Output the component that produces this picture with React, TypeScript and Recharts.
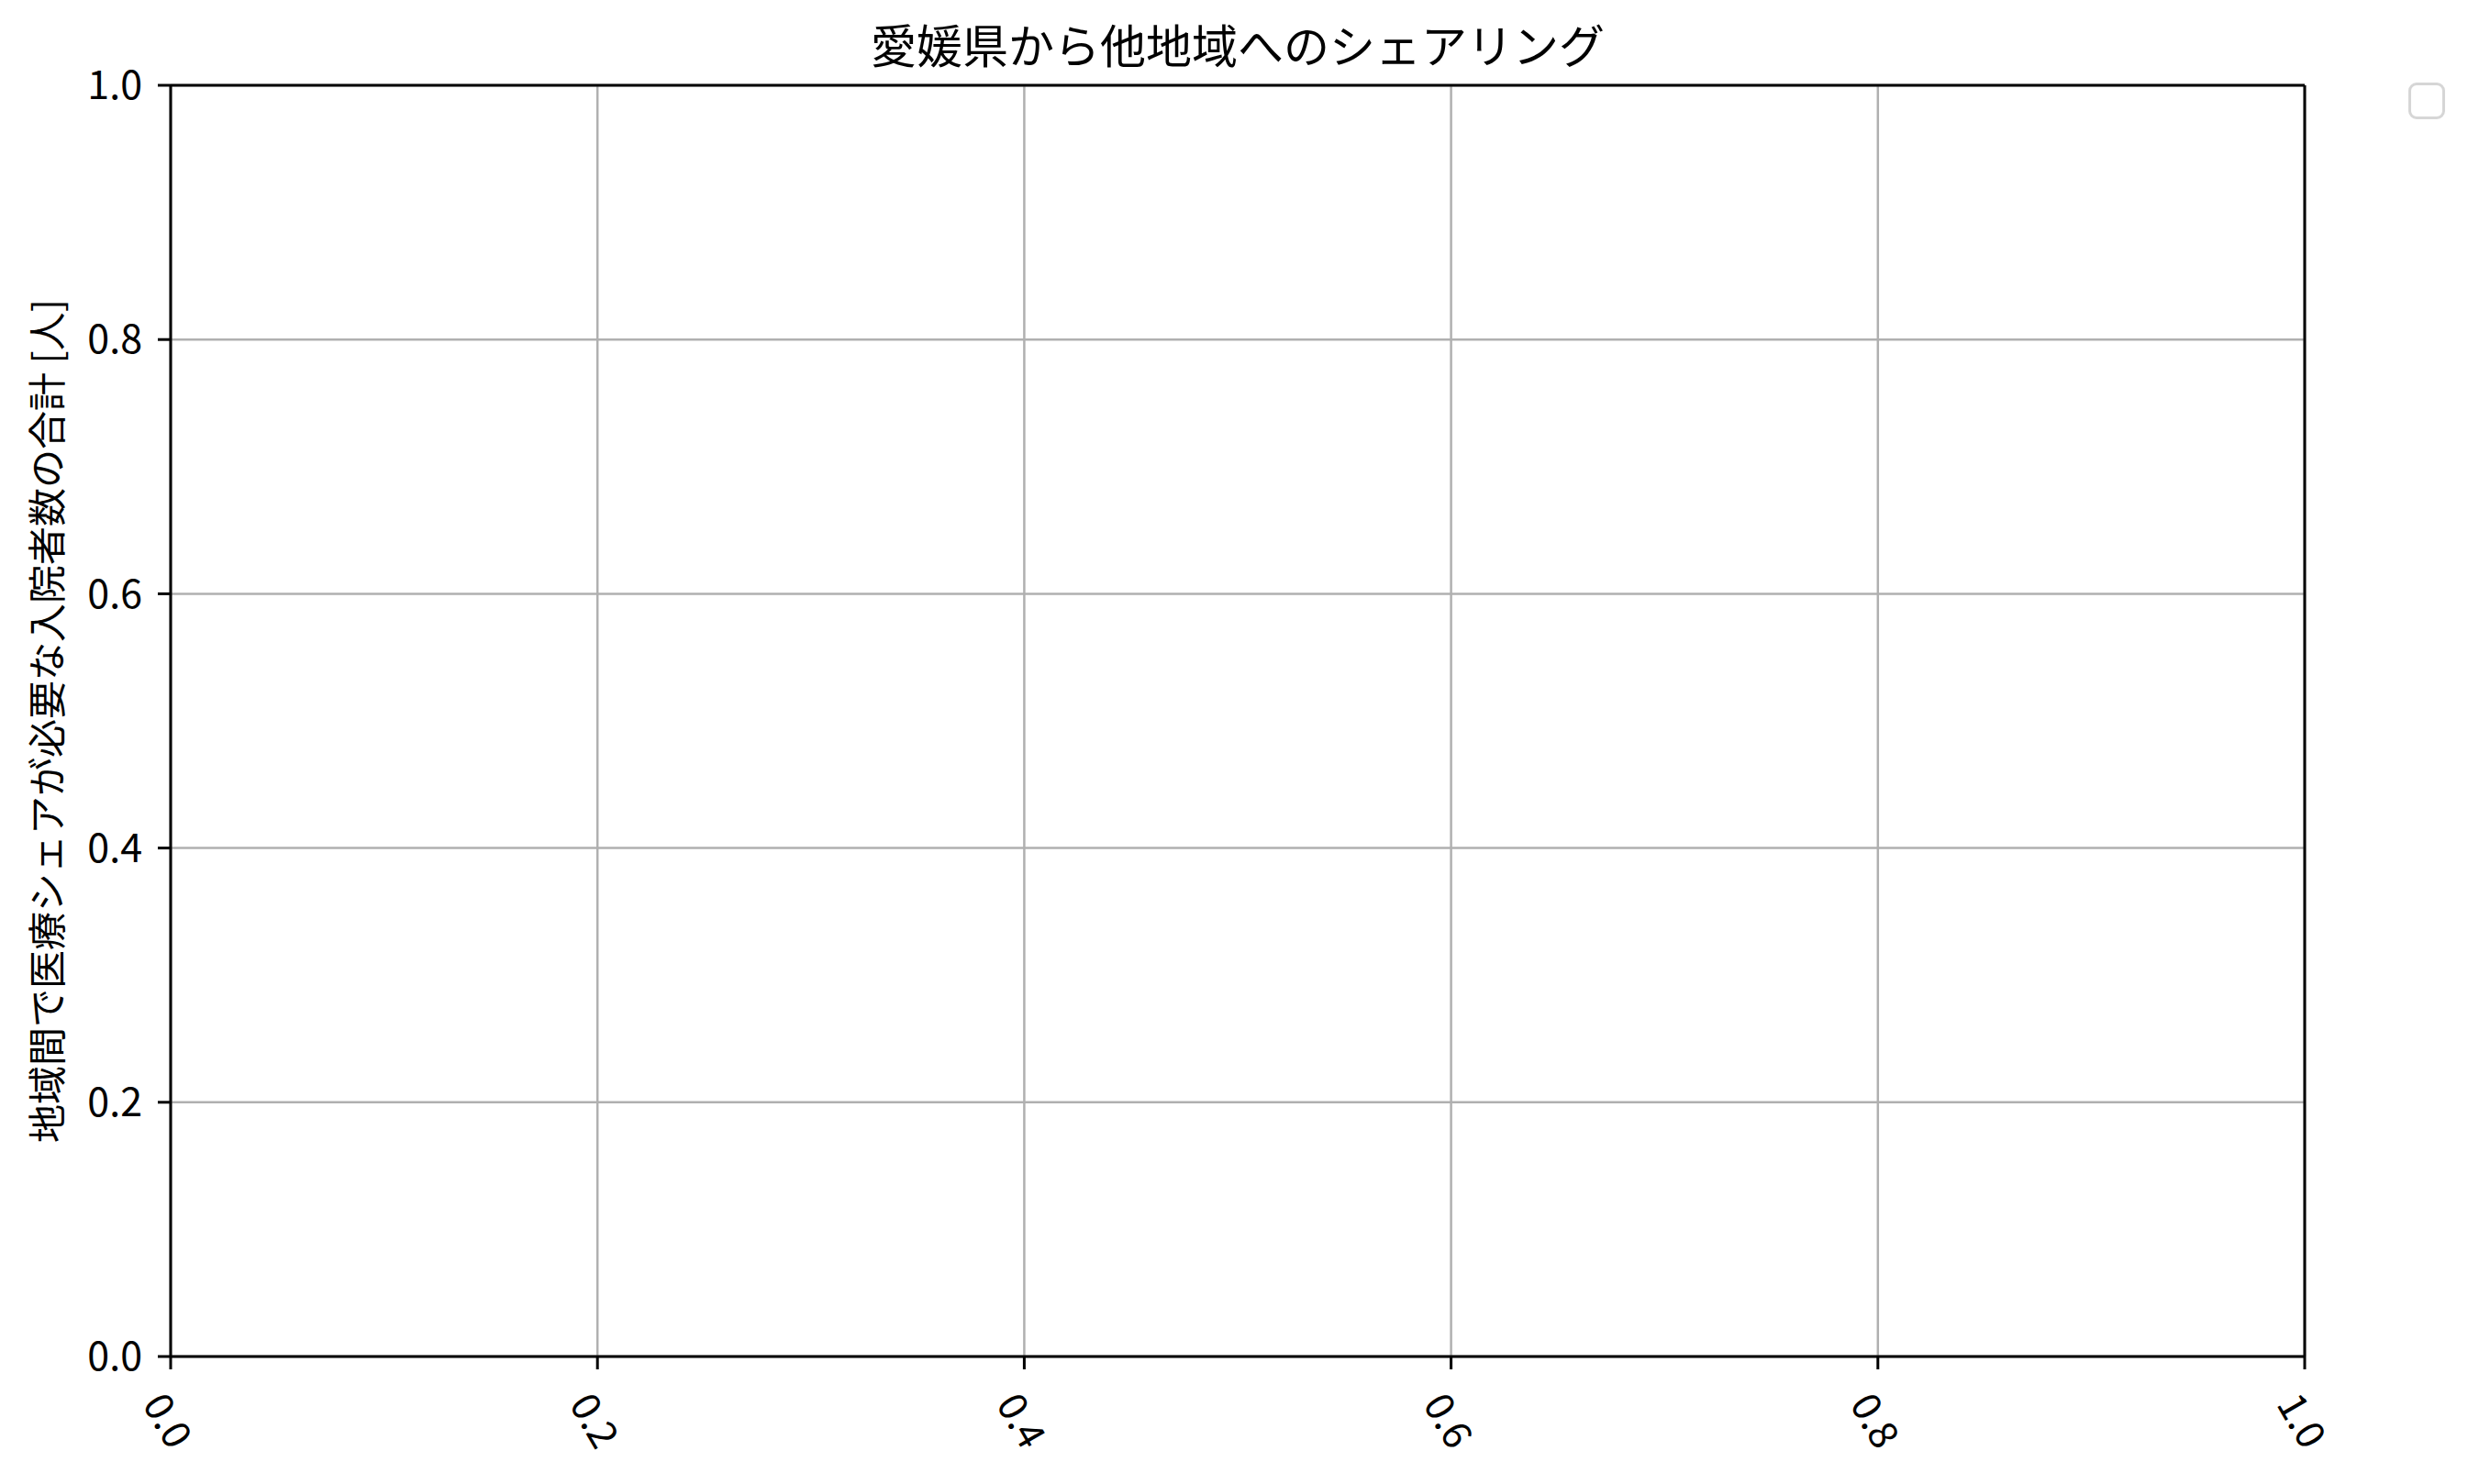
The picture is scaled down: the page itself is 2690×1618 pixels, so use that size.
import React from 'react';
import { ScatterChart, Scatter, XAxis, YAxis, CartesianGrid, ReferenceLine } from 'recharts';

const TITLE = '愛媛県から他地域へのシェアリング';
const Y_LABEL = '地域間で医療シェアが必要な入院者数の合計 [人]';

// nothing was plotted in the source figure, the axes just default to 0..1
const sharingPoints: { x: number; y: number }[] = [];
const xTicks = [0, 0.2, 0.4, 0.6, 0.8, 1.0];
const yTicks = [0, 0.2, 0.4, 0.6, 0.8, 1.0];

const FONT = '"Noto Sans CJK JP", "Noto Sans", sans-serif';
const W = 2690;
const H = 1618;

const RotatedTick = ({ x, y, payload }: any) => {
    const cx = x;
    const cy = y + 54;
    return (
        <text
            x={cx}
            y={cy}
            textAnchor="middle"
            dominantBaseline="central"
            transform={`rotate(60, ${cx}, ${cy})`}
            fontSize={43}
            fontFamily={FONT}
            fill="#000"
        >
            {Number(payload.value).toFixed(1)}
        </text>
    );
};

const YLabel = ({ viewBox }: any) => {
    const cy = viewBox.y + viewBox.height / 2;
    const cx = 48;
    return (
        <text
            x={cx}
            y={cy}
            textAnchor="middle"
            dominantBaseline="central"
            transform={`rotate(-90, ${cx}, ${cy})`}
            fontSize={42}
            fontFamily={FONT}
            fill="#000"
        >
            {Y_LABEL}
        </text>
    );
};

export default function App() {
    return (
        <div style={{ position: 'absolute', left: 0, top: 0, width: W, height: H, background: '#fff', fontFamily: FONT }}>
            <div
                style={{
                    position: 'absolute',
                    left: 186,
                    width: 2326,
                    top: 17,
                    textAlign: 'center',
                    fontSize: 50,
                    lineHeight: '60px',
                    color: '#000',
                }}
            >
                {TITLE}
            </div>
            {/* empty legend frame (legend had no entries) */}
            <div
                style={{
                    position: 'absolute',
                    left: 2625,
                    top: 90,
                    width: 40,
                    height: 40,
                    boxSizing: 'border-box',
                    border: '3px solid #d6d6d6',
                    borderRadius: 9,
                }}
            />
            <ScatterChart width={W} height={H} margin={{ top: 93, right: 178, bottom: 39, left: 66 }}>
                <CartesianGrid stroke="#b0b0b0" strokeWidth={2.5} />
                <XAxis
                    type="number"
                    dataKey="x"
                    domain={[0, 1]}
                    ticks={xTicks}
                    allowDataOverflow
                    height={100}
                    tickSize={14}
                    tickMargin={0}
                    tick={<RotatedTick />}
                    axisLine={{ stroke: '#000', strokeWidth: 3 }}
                    tickLine={{ stroke: '#000', strokeWidth: 3 }}
                    interval={0}
                />
                <YAxis
                    type="number"
                    dataKey="y"
                    domain={[0, 1]}
                    ticks={yTicks}
                    allowDataOverflow
                    width={120}
                    tickSize={14}
                    tickMargin={17}
                    tickFormatter={(v: number) => v.toFixed(1)}
                    tick={{ fontSize: 43, fontFamily: FONT, fill: '#000' }}
                    axisLine={{ stroke: '#000', strokeWidth: 3 }}
                    tickLine={{ stroke: '#000', strokeWidth: 3 }}
                    interval={0}
                    label={<YLabel />}
                />
                {/* top / right spines */}
                <ReferenceLine y={1} stroke="#000" strokeWidth={3} />
                <ReferenceLine x={1} stroke="#000" strokeWidth={3} />
                <Scatter data={sharingPoints} fill="#1f77b4" isAnimationActive={false} />
            </ScatterChart>
        </div>
    );
}
